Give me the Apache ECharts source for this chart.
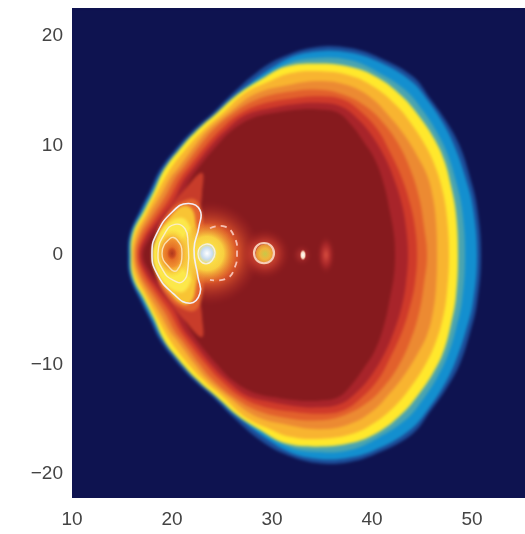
<!DOCTYPE html>
<html><head><meta charset="utf-8">
<style>html,body{margin:0;padding:0;background:#fff;overflow:hidden}
#wrap{position:absolute;left:72px;top:8px;width:453px;height:490px;overflow:hidden;background:#0e1350}
#plot{width:453px;height:490px;filter:blur(1.7px)}
#c{position:absolute;left:0;top:0;width:525px;height:534px;filter:blur(0.6px)}</style>
<script src="https://cdn.jsdelivr.net/npm/echarts@6/dist/echarts.min.js"></script>
</head><body><div id="wrap"><div id="plot"></div></div><div id="c"></div>
<script>
const xTicks=[10,20,30,40,50];
const yTicks=[-20,-10,0,10,20];
const contourEdge=[[15.6,0],[15.8,2.0],[16.8,4.1],[17.8,5.9],[18.8,7.8],[20.3,9.6],[22.1,11.4],[24.1,13.0],[26.1,14.8],[28.5,16.7],[31.1,18.1],[34.5,19.0],[37.8,18.9],[40.8,18.0],[44.1,16.3],[45.8,14.3],[47.5,12.1],[48.8,9.9],[49.8,7.1],[50.5,4.4],[50.9,0]];
const contourBlue=[[15.7,0],[15.9,2.0],[17.0,4.1],[18.0,5.9],[19.0,7.7],[20.5,9.5],[22.3,11.3],[24.3,12.9],[26.3,14.6],[31.3,17.8],[34.5,18.6],[37.8,18.5],[40.8,17.6],[43.9,15.9],[45.6,14.1],[47.2,11.9],[48.4,9.6],[49.4,6.9],[50.1,4.3],[50.5,0]];
const contourTeal=[[15.8,0],[16.0,2.0],[17.1,4.0],[18.1,5.8],[19.1,7.6],[20.6,9.4],[22.4,11.2],[24.4,12.8],[26.4,14.4],[31.3,17.4],[34.5,18.0],[37.8,17.8],[40.6,16.7],[43.3,15.1],[45.0,13.3],[46.5,11.2],[47.6,9.1],[48.4,6.7],[49.0,4.2],[49.3,0]];
const contourYellow=[[15.9,0],[16.1,2.0],[17.2,4.0],[18.2,5.8],[19.2,7.8],[20.7,9.6],[22.5,11.4],[24.5,13.0],[26.6,14.7],[29.0,16.1],[31.3,17.2],[34.5,17.5],[37.8,17.2],[40.6,16.2],[43.0,14.5],[44.6,12.8],[46.1,10.8],[47.2,8.7],[47.9,6.3],[48.4,3.8],[48.6,0]];
const contourAmber=[[16.0,0],[16.3,1.9],[17.4,3.8],[18.5,5.7],[19.8,7.8],[21.3,9.6],[23.1,11.4],[25.1,13.0],[27.3,14.8],[29.8,15.9],[31.8,16.6],[34.5,16.8],[37.8,16.4],[40.3,15.3],[42.5,13.6],[44.0,11.9],[45.4,9.9],[46.4,7.9],[47.1,5.7],[47.5,3.4],[47.7,0]];
const contourOrange=[[16.2,0],[16.6,1.8],[17.7,3.7],[18.9,5.5],[19.8,7.0],[20.5,7.8],[22.3,10.0],[23.6,11.4],[25.7,13.0],[28.3,14.7],[31.5,15.5],[34.7,15.9],[37.6,15.5],[40.0,14.3],[41.8,12.6],[43.2,11.0],[44.5,9.1],[45.5,7.3],[46.1,5.2],[46.4,3.0],[46.5,0]];
const contourRedOrange=[[16.4,0],[16.8,1.7],[18.0,3.5],[19.3,5.3],[20.3,7.0],[21.0,7.8],[22.8,10.0],[24.1,11.4],[26.2,13.0],[28.5,14.2],[31.6,14.9],[34.7,15.1],[37.3,14.6],[39.5,13.5],[41.2,12.0],[42.6,10.2],[43.8,7.9],[44.7,5.3],[45.2,2.6],[45.5,0]];
const contourRed=[[16.6,0],[17.1,1.6],[18.3,3.3],[19.7,5.1],[20.7,6.8],[21.5,7.8],[23.4,10.0],[24.8,11.4],[26.8,12.9],[29.0,13.8],[32.0,14.3],[34.7,14.5],[37.1,14.2],[39.0,13.0],[40.6,11.4],[41.8,9.4],[43.0,7.0],[43.8,4.7],[44.3,2.5],[44.5,0]];
const contourCrimson=[[16.8,0],[17.4,1.6],[18.6,3.1],[20.1,4.9],[21.1,6.7],[22.0,7.8],[23.9,10.0],[25.4,11.4],[27.4,12.8],[29.8,13.4],[32.4,13.8],[34.7,13.9],[36.8,13.6],[38.5,12.5],[40.0,10.9],[41.3,8.9],[42.3,6.7],[43.0,4.6],[43.4,2.5],[43.6,0]];
const contourDark=[[17.1,0],[17.7,1.4],[18.9,2.8],[20.5,4.6],[21.5,6.4],[22.5,7.8],[24.5,10.0],[26.0,11.4],[28.0,12.5],[30.3,13.0],[32.8,13.3],[34.7,13.3],[36.6,13.0],[38.0,11.8],[39.2,10.3],[40.3,8.7],[41.2,6.4],[41.8,3.9],[42.2,1.8],[42.3,0]];
const fanRed=[[18.3,0],[18.6,2.1],[19.8,4.3],[21.3,6.0],[23.0,7.5],[23.0,5.6],[22.8,3.7],[23.0,0]];
const fanOrange=[[18.1,0],[18.5,2.1],[19.6,3.9],[21.3,5.0],[22.4,5.0],[23.0,3.7],[23.3,0]];
const fanAmber=[[18.0,0],[18.5,1.8],[19.8,3.5],[21.1,4.5],[22.0,4.2],[22.4,2.7],[22.8,0]];
const fanYellow=[[18.0,0],[18.5,1.6],[19.6,2.9],[20.9,3.4],[21.7,2.8],[22.1,1.4],[22.3,0]];
const layerColors=['#1c4c98','#138fcf','#4aa4b0','#ffe82c','#f8b430','#ec8a32','#e2602c','#cf3a2a','#a8242a','#861a1e'];
const fanColors=['#c83c2a','#e4642e','#f8c434','#fce84a'];
const blobsUnder=[[23.8,0.15,5.0,4.7,'rgba(240,130,50,.98)','rgba(232,96,44,.85)','rgba(180,40,40,0)'],[29.3,0.1,2.5,2.3,'rgba(240,130,60,.95)','rgba(220,70,50,.55)','rgba(160,30,30,0)'],[33.0,0,1.0,1.0,'rgba(220,90,70,.5)','rgba(190,50,50,.3)','rgba(140,30,30,0)'],[35.4,0,0.9,1.8,'rgba(232,90,70,.9)','rgba(200,50,50,.5)','rgba(140,30,30,0)']];
const blobsOver=[[20.0,0.15,1.7,2.2,'#d8501e','#f09030','rgba(248,200,50,0)'],[20.0,0.15,0.5,0.6,'#b0381c','#c84a20','rgba(216,80,30,0)'],[23.5,0.15,3.0,2.8,'#fff04e','#f8d040','rgba(240,150,50,0)'],[23.5,0.15,1.0,1.0,'#ffffff','#c8dcf0','rgba(200,220,240,0)'],[29.3,0.1,0.95,0.9,'#c8c848','#f0b43c','rgba(240,168,56,.7)'],[33.1,0,0.35,0.55,'#ffffff','#f8d8c0','rgba(200,60,50,0)']];
const lobeOuter=[[18.0,0.15],[18.5,2.0],[20.1,4.0],[21.6,4.7],[22.8,4.1],[22.7,2.6],[22.2,0.5],[22.6,-2.0],[22.8,-3.5],[21.8,-4.4],[20.1,-3.5],[18.5,-1.7]];
const lobeMiddle=[[18.6,0.15],[19.3,2.0],[20.3,2.8],[21.3,2.4],[21.6,1.1],[21.6,-1.1],[21.1,-2.4],[20.1,-2.3],[19.1,-1.4]];
const lobeInner=[[19.0,0.15],[19.8,1.5],[20.5,1.4],[21.0,0.15],[20.5,-1.4],[19.8,-1.2]];
const coreRing=[[24.3,0.2],[24.0,0.85],[23.4,1.0],[22.8,0.7],[22.6,0.15],[22.8,-0.5],[23.4,-0.8],[24.0,-0.5]];
const ringThree=[[30.2,0.18],[29.9,0.85],[29.2,1.1],[28.5,0.85],[28.2,0.18],[28.5,-0.5],[29.2,-0.75],[29.9,-0.5]];
const dashedArc=[[23.8,2.44],[25.3,2.59],[26.3,1.52],[26.5,0.15],[26.3,-1.07],[25.5,-2.13],[23.8,-2.28]];

const ring=h=>h.concat(h.slice(1,-1).reverse().map(p=>[p[0],-p[1]]));
function poly(target,points,style,closed,smooth){
  target.push({type:'custom',coordinateSystem:'cartesian2d',silent:true,animation:false,data:points,encode:{x:0,y:1},
    renderItem:(p,api)=>{
      if(p.dataIndex!==0)return;
      return {type:closed?'polygon':'polyline',shape:{points:points.map(q=>api.coord(q)),smooth:smooth},style:style};
    }});
}
function blobs(target,list){
  target.push({type:'custom',coordinateSystem:'cartesian2d',silent:true,animation:false,data:list.map(b=>b.slice(0,4)),encode:{x:0,y:1},
    renderItem:(p,api)=>{
      const b=list[p.dataIndex];
      const c=api.coord([b[0],b[1]]),s=api.size([b[2],b[3]]);
      return {type:'circle',shape:{cx:0,cy:0,r:s[0]},x:c[0],y:c[1],scaleX:1,scaleY:s[1]/s[0],
        style:{fill:new echarts.graphic.RadialGradient(0.5,0.5,0.5,[{offset:0,color:b[4]},{offset:0.55,color:b[5]},{offset:1,color:b[6]}])}};
    }});
}
const under=[],over=[];
[contourEdge,contourBlue,contourTeal,contourYellow,contourAmber,contourOrange,contourRedOrange,contourRed,contourCrimson,contourDark].forEach((c,i)=>{
  poly(under,ring(c),{fill:layerColors[i]},true,0.4);
});
blobs(under,blobsUnder);
[fanRed,fanOrange,fanAmber,fanYellow].forEach((c,i)=>{
  poly(under,ring(c),{fill:fanColors[i]},true,0.4);
});
blobs(over,blobsOver);
poly(over,lobeOuter,{fill:'none',stroke:'#f2eef6',lineWidth:1.6},true,0.5);
poly(over,lobeMiddle,{fill:'none',stroke:'#fbeec8',lineWidth:1.4},true,0.5);
poly(over,lobeInner,{fill:'none',stroke:'#fbe0b0',lineWidth:1.4},true,0.5);
poly(over,coreRing,{fill:'none',stroke:'#f6f0e0',lineWidth:1.3},true,0.5);
poly(over,ringThree,{fill:'none',stroke:'#f6ccb6',lineWidth:2.2},true,0.5);
poly(over,dashedArc,{fill:'none',stroke:'#f6c0b4',lineWidth:1.8,lineDash:[6,5]},false,0.5);

const xRange={min:10,max:55.3},yRange={min:-22.19,max:22.56};
const plot=echarts.init(document.getElementById('plot'));
plot.setOption({animation:false,grid:{left:0,right:0,top:0,bottom:0,show:true,backgroundColor:'#0e1350',borderWidth:0},
  xAxis:Object.assign({type:'value',show:false},xRange),yAxis:Object.assign({type:'value',show:false},yRange),series:under});
const chart=echarts.init(document.getElementById('c'));
const labelStyle={fontFamily:'Liberation Sans',fontSize:19,color:'#444'};
chart.setOption({
  animation:false,
  grid:{left:72,right:0,top:8,bottom:36,borderWidth:0},
  xAxis:Object.assign({type:'value',axisLine:{show:false},axisTick:{show:false},splitLine:{show:false},
    axisLabel:Object.assign({},labelStyle,{customValues:xTicks,margin:12})},xRange),
  yAxis:Object.assign({type:'value',axisLine:{show:false},axisTick:{show:false},splitLine:{show:false},
    axisLabel:Object.assign({},labelStyle,{customValues:yTicks,margin:9,formatter:v=>String(v).replace('-','\u2212')})},yRange),
  series:over
});
</script></body></html>
